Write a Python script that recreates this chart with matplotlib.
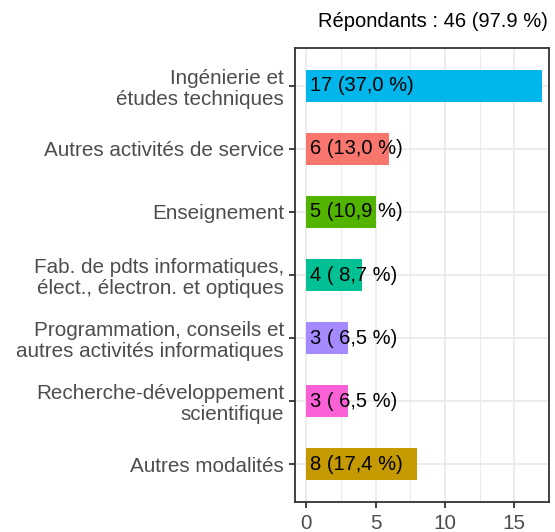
import matplotlib
matplotlib.use("Agg")
import matplotlib.pyplot as plt
from matplotlib.ticker import MultipleLocator

plt.rcParams['font.family'] = ['Liberation Sans', 'DejaVu Sans']

categories = [
    "Ingénierie et\nétudes techniques",
    "Autres activités de service",
    "Enseignement",
    "Fab. de pdts informatiques,\nélect., électron. et optiques",
    "Programmation, conseils et\nautres activités informatiques",
    "Recherche-développement\nscientifique",
    "Autres modalités",
]
counts = [17, 6, 5, 4, 3, 3, 8]
pcts = ["37,0", "13,0", "10,9", " 8,7", " 6,5", " 6,5", "17,4"]
colors = ["#00B6EB", "#F8766D", "#53B400", "#00C094", "#A58AFF", "#FB61D7", "#C49A00"]
title = "Répondants : 46 (97.9 %)"

fs = 14.9      # axis text
fs_lab = 14.5  # bar labels / title

fig = plt.figure(figsize=(5.55, 5.32), dpi=100)
ax = fig.add_axes([295 / 555, 1 - 502 / 532, 254 / 555, 454 / 532])

pos = list(range(len(categories)))
ax.barh(pos, counts, height=0.5, color=colors, zorder=3)

for y, c, p in zip(pos, counts, pcts):
    ax.annotate(f"{c} ({p} %)", xy=(0, y), xytext=(3, 0), textcoords="offset points",
                ha="left", va="center", fontsize=fs_lab, color="black", zorder=4)

ax.set_xlim(-0.8, 17.5)
ax.set_ylim(6.6, -0.6)
ax.set_yticks(pos)
ax.set_yticklabels(categories)
for lbl in ax.get_yticklabels():
    lbl.set_multialignment("right")
    lbl.set_linespacing(1.15)
ax.xaxis.set_major_locator(MultipleLocator(5))
ax.xaxis.set_minor_locator(MultipleLocator(2.5))

ax.grid(which="major", color="#EBEBEB", linewidth=1.3, zorder=0)
ax.grid(which="minor", axis="x", color="#EBEBEB", linewidth=0.7, zorder=0)
ax.set_axisbelow(True)

ax.tick_params(axis="both", which="major", labelsize=fs, labelcolor="#4D4D4D",
               color="#333333", length=4.5, width=1.3)
ax.tick_params(axis="y", pad=3.5)
ax.tick_params(axis="x", pad=4)
ax.tick_params(which="minor", length=0)

for s in ax.spines.values():
    s.set_color("#333333")
    s.set_linewidth(1.3)

fig.text(548 / 555, 1 - 27 / 532, title, ha="right", va="baseline", fontsize=fs_lab, color="black")

fig.savefig("out.png", dpi=100, facecolor="white")
